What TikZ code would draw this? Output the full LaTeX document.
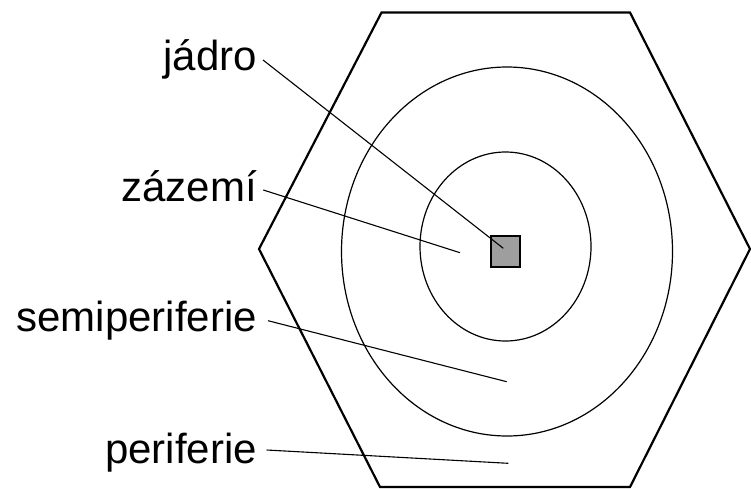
\documentclass[tikz,border=0pt]{standalone}
\usepackage{fontspec}
\setmainfont{Liberation Sans}
\definecolor{coregray}{RGB}{158,158,158}
\begin{document}
\begin{tikzpicture}[x=1pt,y=1pt,
  lbl/.style={anchor=base east, inner sep=0pt, font=\fontsize{42}{42}\selectfont},
  hexline/.style={line width=2.2pt, line join=miter},
  ring/.style={line width=1.2pt},
  leader/.style={line width=1.1pt},
  corebox/.style={draw, line width=2pt, fill=coregray, minimum width=29pt, minimum height=31pt, inner sep=0pt}]
\useasboundingbox (0,0) rectangle (751,-488);
% hexagon
\draw[hexline] (381.5,-12.5) -- (630,-12.5) -- (750,-249) -- (630,-487) -- (380,-487) -- (259,-249) -- cycle;
% rings
\draw[ring] (507,-251.5) ellipse [x radius=165.5, y radius=184.5];
\draw[ring] (505.5,-246.5) ellipse [x radius=85.5, y radius=94.5];
% core
\node[corebox] (core) at (505.3,-251) {};
% labels
\node[lbl] (jadro) at (257,-70.7) {jádro};
\node[lbl] (zazemi) at (257,-201.7) {zázemí};
\node[lbl] (semi) at (257,-331.7) {semiperiferie};
\node[lbl] (peri) at (257,-463) {periferie};
% leader start and end points
\coordinate (js) at (263,-60);
\coordinate (je) at (503.3,-248.3);
\coordinate (zs) at (263.3,-190);
\coordinate (ze) at (460,-252.7);
\coordinate (ss) at (268,-320.7);
\coordinate (se) at (506.7,-381.7);
\coordinate (ps) at (266.7,-450);
\coordinate (pe) at (508.3,-463.3);
\draw[leader] (js) -- (je);
\draw[leader] (zs) -- (ze);
\draw[leader] (ss) -- (se);
\draw[leader] (ps) -- (pe);
\end{tikzpicture}
\end{document}
